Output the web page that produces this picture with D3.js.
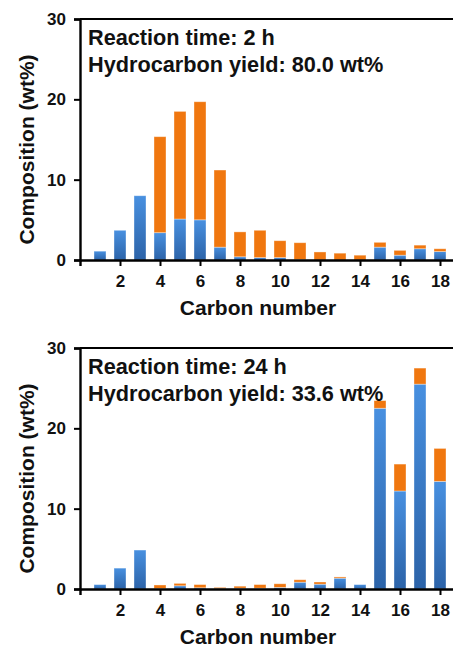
<!DOCTYPE html>
<html>
<head>
<meta charset="utf-8">
<script src="https://cdn.jsdelivr.net/npm/d3@7"></script>
<style>
  body { margin: 0; background: #fff; }
  text { font-family: "Liberation Sans", Arial, sans-serif; font-weight: bold; fill: #111; }
</style>
</head>
<body>
<script>
// values (wt%), carbon numbers 1..18
const carbonNumbers = d3.range(1, 19);
const yTicks = [0, 10, 20, 30];
const xTicks = [2, 4, 6, 8, 10, 12, 14, 16, 18];

const blue2h   = [1.1, 3.7, 8.0, 3.4, 5.1, 5.0, 1.6, 0.4, 0.3, 0.3, 0.05, 0, 0, 0, 1.6, 0.6, 1.4, 1.05];
const orange2h = [0, 0, 0, 11.95, 13.4, 14.7, 9.6, 3.1, 3.4, 2.1, 2.1, 1.0, 0.85, 0.6, 0.6, 0.6, 0.45, 0.35];

const blue24h   = [0.55, 2.6, 4.85, 0.05, 0.4, 0.15, 0.05, 0.1, 0.1, 0.2, 0.85, 0.6, 1.35, 0.55, 22.5, 12.2, 25.5, 13.4];
const orange24h = [0, 0, 0, 0.45, 0.3, 0.4, 0.15, 0.25, 0.45, 0.45, 0.3, 0.27, 0.15, 0, 0.95, 3.35, 2.0, 4.1];

const panels = [
    { blue: blue2h, orange: orange2h, top: 19, bottom: 260, notes: ['Reaction time: 2 h', 'Hydrocarbon yield: 80.0 wt%'] },
    { blue: blue24h, orange: orange24h, top: 348, bottom: 589, notes: ['Reaction time: 24 h', 'Hydrocarbon yield: 33.6 wt%'] }
];

const SCREEN = { width: 453, height: 648, left: 80, right: 460 };

const svg = d3.select('body').append('svg')
    .attr('width', SCREEN.width)
    .attr('height', SCREEN.height);

const grad = svg.append('defs').append('linearGradient')
    .attr('id', 'blueGrad')
    .attr('x1', 0).attr('y1', 0).attr('x2', 0).attr('y2', 1);
grad.append('stop').attr('offset', '0%').attr('stop-color', '#4890e0');
grad.append('stop').attr('offset', '100%').attr('stop-color', '#2c63a8');

const xScale = d3.scaleLinear().domain([0, 19]).range([SCREEN.left, SCREEN.right]);
const barWidth = 12;

panels.forEach(p => {
    const yScale = d3.scaleLinear().domain([0, 30]).range([p.bottom, p.top]);
    const g = svg.append('g');

    const rows = carbonNumbers.map((c, i) => ({ c: c, blue: p.blue[i], orange: p.orange[i] }));
    const series = d3.stack().keys(['blue', 'orange'])(rows);

    g.selectAll('g.series')
        .data(series)
        .enter().append('g')
        .attr('fill', d => d.key === 'blue' ? 'url(#blueGrad)' : '#f0770f')
        .selectAll('rect')
        .data(d => d)
        .enter().append('rect')
        .attr('x', d => xScale(d.data.c) - barWidth / 2)
        .attr('y', d => yScale(d[1]))
        .attr('width', barWidth)
        .attr('height', d => Math.max(0, yScale(d[0]) - yScale(d[1])))
        .attr('stroke', 'rgba(255,255,255,0.45)')
        .attr('stroke-width', 0.8);

    // top frame line
    g.append('line')
        .attr('x1', SCREEN.left).attr('x2', SCREEN.right)
        .attr('y1', p.top).attr('y2', p.top)
        .attr('stroke', '#000').attr('stroke-width', 2);

    const yAxis = g.append('g')
        .attr('transform', `translate(${SCREEN.left},0)`)
        .call(d3.axisLeft(yScale).tickValues(yTicks).tickSize(6).tickPadding(8));
    const xAxis = g.append('g')
        .attr('transform', `translate(0,${p.bottom})`)
        .call(d3.axisBottom(xScale).tickValues(xTicks).tickSize(6).tickPadding(9));

    [yAxis, xAxis].forEach(ax => {
        ax.select('.domain').attr('stroke', '#000').attr('stroke-width', 2.4);
        ax.selectAll('.tick line').attr('stroke', '#000').attr('stroke-width', 2);
        ax.selectAll('.tick text')
            .style('font-size', '17px')
            .style('font-family', '"Liberation Sans", Arial, sans-serif')
            .style('font-weight', 'bold')
            .attr('fill', '#111');
    });

    g.append('text')
        .attr('x', 258)
        .attr('y', p.bottom + 55)
        .attr('text-anchor', 'middle')
        .style('font-size', '21px')
        .text('Carbon number');

    g.append('text')
        .attr('transform', `translate(34,${(p.top + p.bottom) / 2 + 10}) rotate(-90)`)
        .attr('text-anchor', 'middle')
        .style('font-size', '21px')
        .text('Composition (wt%)');

    g.selectAll('text.note')
        .data(p.notes)
        .enter().append('text')
        .attr('class', 'note')
        .attr('x', 88)
        .attr('y', (d, i) => p.top + 26 + i * 27)
        .style('font-size', '21.7px')
        .text(d => d);
});
</script>
</body>
</html>
